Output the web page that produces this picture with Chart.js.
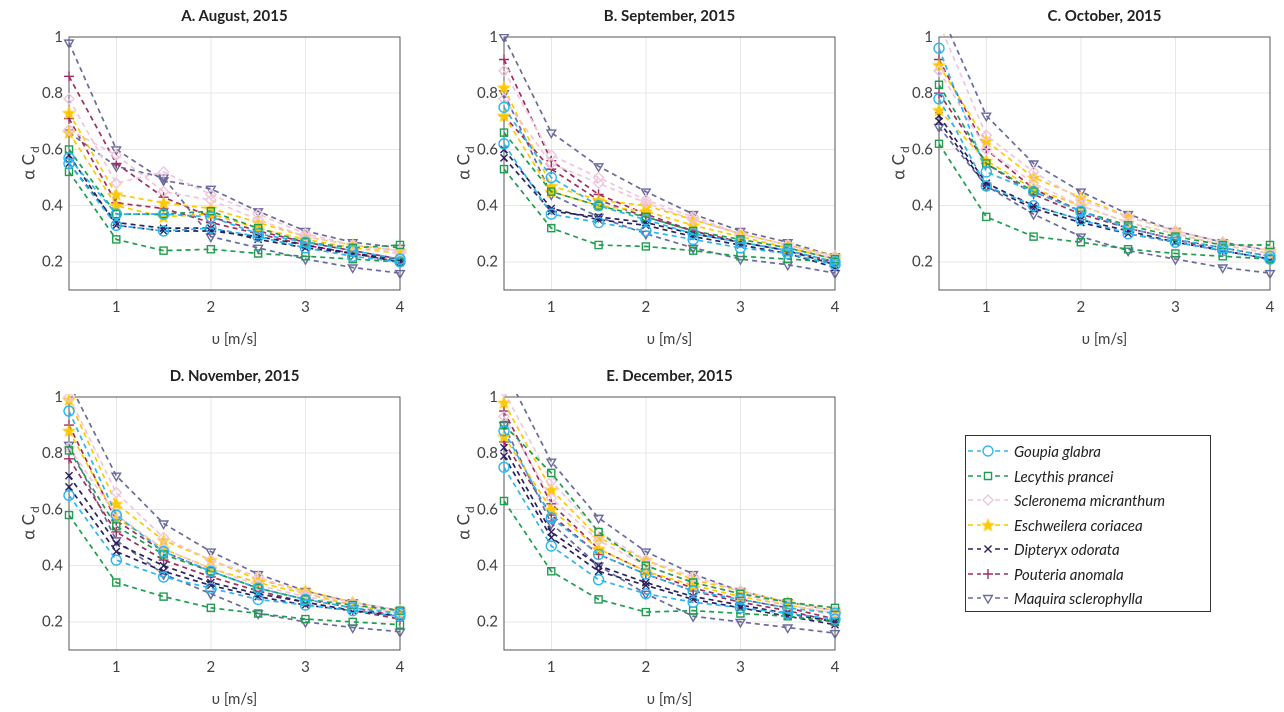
<!DOCTYPE html>
<html>
<head>
<meta charset="utf-8">
<script src="https://cdn.jsdelivr.net/npm/chart.js@4"></script>
<style>
  body { margin: 0; background: #fff; width: 1284px; height: 712px; position: relative; overflow: hidden; font-family: "Lato", "DejaVu Sans", sans-serif; }
  .panel { position: absolute; }
  .ttl { position: absolute; font-weight: bold; font-size: 15px; color: #222; text-align: center; width: 331px; }
  #legend { position: absolute; left: 965px; top: 435px; width: 246px; height: 177px; border: 1px solid #333; background: #fff; box-sizing: border-box; padding-top: 3px; }
  .li { height: 24.5px; display: flex; align-items: center; font-style: italic; font-size: 15px; color: #222; }
  .li canvas { margin: 0 6px 0 2px; }
</style>
</head>
<body>
<div id="legend"></div>
<script>
const speeds = [0.5, 1, 1.5, 2, 2.5, 3, 3.5, 4];
const xTicks = [1, 2, 3, 4];
const yTicks = [0.2, 0.4, 0.6, 0.8, 1];
const species = ['Goupia glabra', 'Lecythis prancei', 'Scleronema micranthum', 'Eschweilera coriacea', 'Dipteryx odorata', 'Pouteria anomala', 'Maquira sclerophylla'];
const titles = ['A. August, 2015', 'B. September, 2015', 'C. October, 2015', 'D. November, 2015', 'E. December, 2015'];

// two trees per species, values per speed
const augGoupia = [[0.55, 0.33, 0.31, 0.32, 0.29, 0.25, 0.22, 0.20], [0.57, 0.37, 0.37, 0.36, 0.30, 0.27, 0.24, 0.21]];
const augLecythis = [[0.52, 0.28, 0.24, 0.245, 0.23, 0.22, 0.21, 0.20], [0.60, 0.37, 0.37, 0.38, 0.32, 0.27, 0.25, 0.26]];
const augScleronema = [[0.78, 0.48, 0.52, 0.44, 0.37, 0.30, 0.26, 0.24], [0.67, 0.58, 0.45, 0.42, 0.35, 0.29, 0.26, 0.23]];
const augEschweilera = [[0.73, 0.44, 0.41, 0.39, 0.34, 0.29, 0.26, 0.24], [0.66, 0.40, 0.36, 0.37, 0.32, 0.28, 0.25, 0.23]];
const augDipteryx = [[0.58, 0.33, 0.31, 0.31, 0.29, 0.26, 0.23, 0.21], [0.55, 0.34, 0.32, 0.32, 0.28, 0.25, 0.23, 0.20]];
const augPouteria = [[0.86, 0.55, 0.43, 0.36, 0.31, 0.27, 0.24, 0.21], [0.71, 0.41, 0.39, 0.34, 0.30, 0.26, 0.23, 0.20]];
const augMaquira = [[0.98, 0.60, 0.49, 0.46, 0.38, 0.31, 0.27, 0.25], [0.66, 0.54, 0.50, 0.29, 0.25, 0.21, 0.18, 0.16]];

const sepGoupia = [[0.75, 0.50, 0.40, 0.35, 0.30, 0.27, 0.24, 0.20], [0.62, 0.37, 0.34, 0.31, 0.28, 0.25, 0.23, 0.19]];
const sepLecythis = [[0.53, 0.32, 0.26, 0.255, 0.24, 0.22, 0.21, 0.20], [0.66, 0.45, 0.40, 0.36, 0.31, 0.28, 0.25, 0.21]];
const sepScleronema = [[0.88, 0.58, 0.50, 0.42, 0.36, 0.30, 0.26, 0.22], [0.78, 0.55, 0.48, 0.41, 0.35, 0.30, 0.26, 0.21]];
const sepEschweilera = [[0.82, 0.47, 0.42, 0.40, 0.35, 0.30, 0.26, 0.22], [0.72, 0.45, 0.40, 0.38, 0.33, 0.29, 0.25, 0.21]];
const sepDipteryx = [[0.57, 0.38, 0.36, 0.34, 0.30, 0.27, 0.24, 0.19], [0.60, 0.39, 0.35, 0.33, 0.29, 0.26, 0.23, 0.18]];
const sepPouteria = [[0.92, 0.56, 0.44, 0.37, 0.31, 0.27, 0.24, 0.20], [0.72, 0.53, 0.42, 0.36, 0.31, 0.27, 0.24, 0.20]];
const sepMaquira = [[1.00, 0.66, 0.54, 0.45, 0.37, 0.31, 0.27, 0.22], [0.80, 0.44, 0.36, 0.30, 0.25, 0.21, 0.19, 0.16]];

const octGoupia = [[0.96, 0.52, 0.45, 0.38, 0.32, 0.28, 0.25, 0.22], [0.78, 0.47, 0.40, 0.35, 0.30, 0.27, 0.24, 0.21]];
const octLecythis = [[0.62, 0.36, 0.29, 0.27, 0.245, 0.23, 0.22, 0.21], [0.83, 0.55, 0.45, 0.38, 0.33, 0.29, 0.26, 0.26]];
const octScleronema = [[1.05, 0.65, 0.52, 0.42, 0.36, 0.31, 0.27, 0.24], [0.88, 0.60, 0.48, 0.40, 0.34, 0.30, 0.26, 0.23]];
const octEschweilera = [[0.90, 0.63, 0.50, 0.43, 0.36, 0.31, 0.27, 0.24], [0.74, 0.56, 0.46, 0.40, 0.34, 0.30, 0.26, 0.23]];
const octDipteryx = [[0.70, 0.47, 0.39, 0.34, 0.30, 0.27, 0.24, 0.21], [0.72, 0.48, 0.40, 0.35, 0.31, 0.27, 0.24, 0.21]];
const octPouteria = [[0.92, 0.60, 0.46, 0.38, 0.32, 0.28, 0.25, 0.22], [0.80, 0.55, 0.44, 0.37, 0.32, 0.28, 0.24, 0.21]];
const octMaquira = [[1.10, 0.72, 0.55, 0.45, 0.37, 0.31, 0.27, 0.24], [0.68, 0.47, 0.37, 0.29, 0.24, 0.21, 0.18, 0.16]];

const novGoupia = [[0.95, 0.58, 0.45, 0.38, 0.32, 0.28, 0.25, 0.23], [0.65, 0.42, 0.36, 0.32, 0.28, 0.26, 0.24, 0.22]];
const novLecythis = [[0.58, 0.34, 0.29, 0.25, 0.23, 0.21, 0.20, 0.19], [0.81, 0.54, 0.44, 0.38, 0.32, 0.28, 0.26, 0.24]];
const novScleronema = [[1.00, 0.66, 0.50, 0.42, 0.36, 0.30, 0.27, 0.24], [0.82, 0.58, 0.46, 0.39, 0.33, 0.29, 0.26, 0.23]];
const novEschweilera = [[0.99, 0.62, 0.49, 0.42, 0.35, 0.31, 0.27, 0.24], [0.88, 0.57, 0.46, 0.39, 0.34, 0.30, 0.26, 0.23]];
const novDipteryx = [[0.72, 0.48, 0.40, 0.34, 0.30, 0.27, 0.24, 0.22], [0.68, 0.45, 0.38, 0.33, 0.29, 0.26, 0.24, 0.22]];
const novPouteria = [[0.90, 0.56, 0.45, 0.38, 0.32, 0.28, 0.25, 0.22], [0.78, 0.52, 0.42, 0.36, 0.31, 0.27, 0.24, 0.21]];
const novMaquira = [[1.05, 0.72, 0.55, 0.45, 0.37, 0.31, 0.27, 0.24], [0.83, 0.49, 0.37, 0.30, 0.23, 0.20, 0.18, 0.165]];

const decGoupia = [[0.75, 0.47, 0.35, 0.30, 0.27, 0.25, 0.23, 0.21], [0.88, 0.57, 0.44, 0.37, 0.31, 0.28, 0.25, 0.23]];
const decLecythis = [[0.63, 0.38, 0.28, 0.235, 0.24, 0.23, 0.22, 0.20], [0.90, 0.73, 0.52, 0.40, 0.34, 0.30, 0.27, 0.25]];
const decScleronema = [[1.02, 0.70, 0.52, 0.42, 0.36, 0.31, 0.27, 0.24], [0.93, 0.64, 0.49, 0.40, 0.34, 0.30, 0.26, 0.23]];
const decEschweilera = [[0.98, 0.67, 0.50, 0.42, 0.35, 0.31, 0.27, 0.24], [0.86, 0.60, 0.46, 0.38, 0.33, 0.29, 0.26, 0.23]];
const decDipteryx = [[0.82, 0.52, 0.40, 0.34, 0.29, 0.26, 0.23, 0.20], [0.79, 0.50, 0.38, 0.33, 0.28, 0.25, 0.22, 0.19]];
const decPouteria = [[0.95, 0.62, 0.46, 0.38, 0.32, 0.28, 0.25, 0.21], [0.84, 0.58, 0.44, 0.37, 0.31, 0.27, 0.24, 0.20]];
const decMaquira = [[1.10, 0.77, 0.57, 0.45, 0.37, 0.31, 0.27, 0.24], [0.90, 0.55, 0.40, 0.30, 0.22, 0.20, 0.18, 0.16]];

const months = [
  [augGoupia, augLecythis, augScleronema, augEschweilera, augDipteryx, augPouteria, augMaquira],
  [sepGoupia, sepLecythis, sepScleronema, sepEschweilera, sepDipteryx, sepPouteria, sepMaquira],
  [octGoupia, octLecythis, octScleronema, octEschweilera, octDipteryx, octPouteria, octMaquira],
  [novGoupia, novLecythis, novScleronema, novEschweilera, novDipteryx, novPouteria, novMaquira],
  [decGoupia, decLecythis, decScleronema, decEschweilera, decDipteryx, decPouteria, decMaquira]
];

const colors = ['#2bb6f0', '#1f9e4f', '#f0c6dc', '#ffc800', '#2a2160', '#9e2e62', '#6a6a9e'];

function makeStar(size, color) {
  const c = document.createElement('canvas');
  c.width = size; c.height = size;
  const g = c.getContext('2d');
  const r = size / 2, ri = r * 0.42;
  g.beginPath();
  for (let i = 0; i < 10; i++) {
    const a = -Math.PI / 2 + i * Math.PI / 5;
    const rr = i % 2 ? ri : r;
    g.lineTo(r + rr * Math.cos(a), r + rr * Math.sin(a) + 0.5);
  }
  g.closePath();
  g.fillStyle = color; g.fill();
  return c;
}
const starImg = makeStar(15, colors[3]);

const markers = [
  { style: 'circle', rot: 0 },
  { style: 'rect', rot: 0 },
  { style: 'rectRot', rot: 0 },
  { style: starImg, rot: 0 },
  { style: 'crossRot', rot: 0 },
  { style: 'cross', rot: 0 },
  { style: 'triangle', rot: 180 }
];

// plot area positions (left, top) for each panel
const slots = [[69, 30], [504, 30], [939, 30], [69, 390], [504, 390]];
const plotW = 331, plotH = 260;
const yAxisW = 50, xAxisH = 62, padTop = 8, padRight = 14;

const yTitle = {
  id: 'yTitle',
  afterDraw(chart) {
    const g = chart.ctx, a = chart.chartArea;
    g.save();
    g.translate(a.left - 40, (a.top + a.bottom) / 2);
    g.rotate(-Math.PI / 2);
    g.fillStyle = '#404040';
    g.textBaseline = 'middle';
    g.font = '17px Lato, "DejaVu Sans", sans-serif';
    const w1 = g.measureText('α C').width;
    g.font = '12px Lato, "DejaVu Sans", sans-serif';
    const w2 = g.measureText('d').width;
    const x0 = -(w1 + w2) / 2;
    g.font = '17px Lato, "DejaVu Sans", sans-serif';
    g.fillText('α C', x0, 0);
    g.font = '12px Lato, "DejaVu Sans", sans-serif';
    g.fillText('d', x0 + w1 + 1, 6);
    g.restore();
  }
};

months.forEach((month, p) => {
  const [pl, pt] = slots[p];
  const cv = document.createElement('canvas');
  const w = plotW + yAxisW + padRight, h = plotH + xAxisH + padTop;
  cv.className = 'panel';
  cv.style.left = (pl - yAxisW) + 'px';
  cv.style.top = (pt - padTop) + 'px';
  cv.style.width = w + 'px'; cv.style.height = h + 'px';
  document.body.appendChild(cv);

  const t = document.createElement('div');
  t.className = 'ttl';
  t.textContent = titles[p];
  t.style.left = pl + 'px';
  t.style.top = (pt - 24) + 'px';
  document.body.appendChild(t);

  const datasets = [];
  month.forEach((trees, s) => {
    trees.forEach(vals => {
      datasets.push({
        label: species[s],
        data: speeds.map((x, i) => ({ x, y: vals[i] })),
        borderColor: colors[s],
        backgroundColor: colors[s],
        borderWidth: 1.7,
        borderDash: [5, 4],
        pointStyle: markers[s].style,
        pointRotation: markers[s].rot,
        pointRadius: 5,
        pointBorderWidth: 1.4,
        pointBackgroundColor: 'rgba(0,0,0,0)',
        pointBorderColor: colors[s],
        clip: { left: 8, right: 8, top: 3, bottom: 8 },
        tension: 0
      });
    });
  });

  new Chart(cv, {
    type: 'line',
    data: { datasets },
    options: {
      responsive: false,
      animation: false,
      devicePixelRatio: 2,
      layout: { padding: { top: padTop, right: padRight, left: 0, bottom: 0 } },
      plugins: { legend: { display: false }, tooltip: { enabled: false } },
      scales: {
        x: {
          type: 'linear', min: 0.5, max: 4,
          afterBuildTicks: ax => { ax.ticks = xTicks.map(v => ({ value: v })); },
          afterFit: ax => { ax.height = xAxisH; },
          grid: { color: '#e6e6e6', drawTicks: false },
          border: { color: '#555', width: 1 },
          ticks: { color: '#404040', padding: 8, font: { size: 15, family: 'Lato' } },
          title: { display: true, text: 'υ [m/s]', color: '#404040', padding: { top: 6 }, font: { size: 15, family: 'Lato' } }
        },
        y: {
          min: 0.1, max: 1,
          afterBuildTicks: ax => { ax.ticks = yTicks.map(v => ({ value: v })); },
          afterFit: ax => { ax.width = yAxisW; },
          grid: { color: '#e6e6e6', drawTicks: false },
          border: { color: '#555', width: 1 },
          ticks: { color: '#404040', padding: 6, font: { size: 15, family: 'Lato' }, callback: v => String(v) }
        }
      }
    },
    plugins: [yTitle, {
      id: 'box',
      beforeDatasetsDraw(chart) {
        const g = chart.ctx, a = chart.chartArea;
        g.save(); g.strokeStyle = '#555'; g.lineWidth = 1;
        g.strokeRect(a.left, a.top, a.right - a.left, a.bottom - a.top);
        g.restore();
      }
    }]
  });
});

// legend
const leg = document.getElementById('legend');
species.forEach((name, s) => {
  const row = document.createElement('div');
  row.className = 'li';
  const ic = document.createElement('canvas');
  ic.width = 40; ic.height = 16; ic.style.width = '40px'; ic.style.height = '16px';
  const g = ic.getContext('2d');
  g.strokeStyle = colors[s]; g.lineWidth = 1.7; g.setLineDash([5, 4]);
  g.beginPath(); g.moveTo(0, 8); g.lineTo(40, 8); g.stroke();
  g.setLineDash([]);
  g.clearRect(13, 1, 14, 14);
  g.lineWidth = 1.4;
  g.fillStyle = 'rgba(0,0,0,0)';
  Chart.helpers.drawPoint(g, { pointStyle: markers[s].style, rotation: markers[s].rot, radius: 5, borderWidth: 1.4 }, 20, 8);
  row.appendChild(ic);
  const sp = document.createElement('span');
  sp.textContent = name;
  row.appendChild(sp);
  leg.appendChild(row);
});
</script>
</body>
</html>
